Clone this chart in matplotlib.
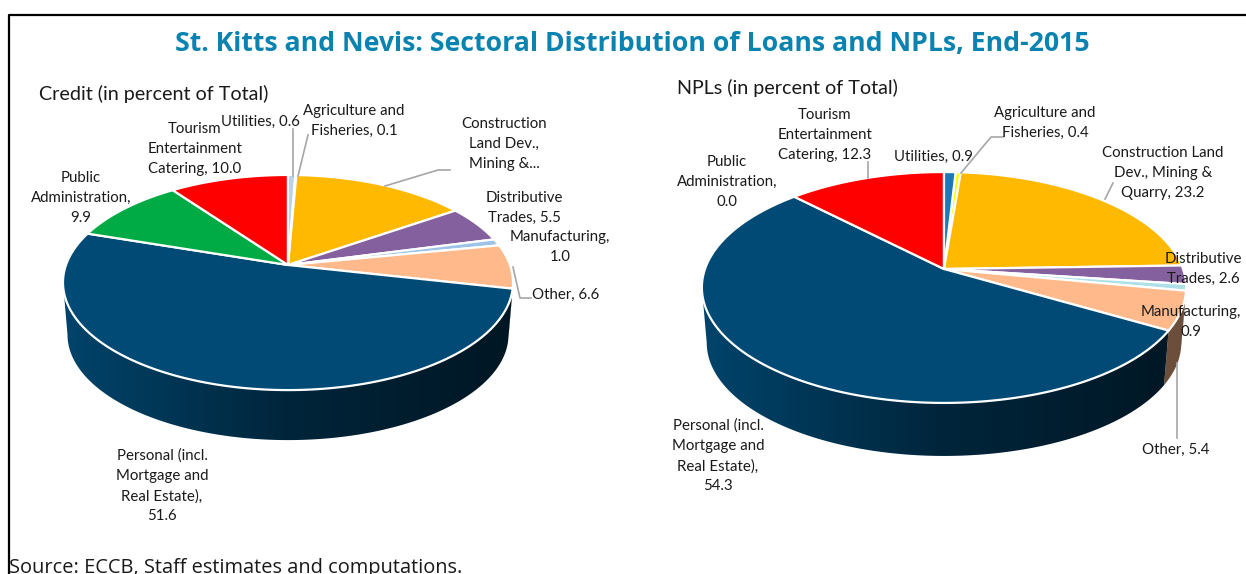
import numpy as np
import matplotlib
matplotlib.use("Agg")
import matplotlib.pyplot as plt
from matplotlib.colors import LinearSegmentedColormap, to_rgb

sectors = ["Agriculture", "Construction", "Distributive", "Manufacturing", "Other",
           "Personal", "Public", "Tourism", "Utilities"]
credit_values = [0.1, 14.7, 5.5, 1.0, 6.6, 51.6, 9.9, 10.0, 0.6]
npl_values = [0.4, 23.2, 2.6, 0.9, 5.4, 54.3, 0.0, 12.3, 0.9]

credit_colors = ["#dfe8f2", "#ffb900", "#85609f", "#9dc3e6", "#ffb98a", "#004a75", "#00ab45", "#ff0000", "#b9d2e9"]
npl_colors = ["#ffff00", "#ffb900", "#85609f", "#aee0e8", "#ffb98a", "#004a75", "#00ab45", "#ff0000", "#1f78b8"]

credit_labels = [
    ("Agriculture and\nFisheries, 0.1", 354, 121),
    ("Utilities, 0.6", 260, 122),
    ("Tourism\nEntertainment\nCatering, 10.0", 195, 149),
    ("Public\nAdministration,\n9.9", 81, 198),
    ("Construction\nLand Dev.,\nMining &...", 504, 144),
    ("Distributive\nTrades, 5.5", 524, 208),
    ("Manufacturing,\n1.0", 560, 247),
    ("Other, 6.6", 566, 295),
    ("Personal (incl.\nMortgage and\nReal Estate),\n51.6", 162, 486),
]
npl_labels = [
    ("Tourism\nEntertainment\nCatering, 12.3", 825, 135),
    ("Agriculture and\nFisheries, 0.4", 1045, 123),
    ("Utilities, 0.9", 933, 157),
    ("Public\nAdministration,\n0.0", 727, 182),
    ("Construction Land\nDev., Mining &\nQuarry, 23.2", 1163, 173),
    ("Distributive\nTrades, 2.6", 1203, 269),
    ("Manufacturing,\n0.9", 1191, 322),
    ("Other, 5.4", 1176, 450),
    ("Personal (incl.\nMortgage and\nReal Estate),\n54.3", 718, 456),
]
leaders = [
    ([293, 293], [129, 176]),
    ([308, 298], [135, 176]),
    ([385, 438, 450], [186, 170, 170]),
    ([513, 520, 531], [267, 298, 298]),
    ([868, 868], [162, 178]),
    ([1003, 991, 961], [137, 137, 173]),
    ([1113, 1105], [183, 199]),
    ([1177, 1177], [363, 438]),
]

fig = plt.figure(figsize=(12.46, 5.74), dpi=100)
ax = fig.add_axes([0, 0, 1, 1])
ax.set_xlim(0, 1246)
ax.set_ylim(574, 0)
ax.axis("off")


def project(theta, cx, cy, rx, ry, k, scale=1.0, drop=0.0):
    # excel style 3d pie, the far side of the disc is foreshortened
    u = np.sin(theta)
    v = np.cos(theta)
    d = 1 + k * v
    return cx + scale * rx * u / d, cy + drop - scale * ry * v / d


def draw_pie(values, colors, first_pct, cx, cy, rx, ry, k, scale, drop):
    # first_pct: the pie is turned so the last slice ends at 12 o'clock
    edges = np.radians((np.concatenate([[0], np.cumsum(values)]) + first_pct) * 3.6)
    # the side wall shows between the two widest points of the rim
    vis_start = np.pi / 2 + np.arcsin(k)
    vis_end = 3 * np.pi / 2 - np.arcsin(k)
    for i, col in enumerate(colors):
        a = max(edges[i], vis_start)
        b = min(edges[i + 1], vis_end)
        if b <= a:
            continue
        t = np.linspace(a, b, 200)
        x1, y1 = project(t, cx, cy, rx, ry, k)
        x2, y2 = project(t, cx, cy, rx, ry, k, scale, drop)
        wall_x = np.concatenate([x1, x2[::-1]])
        wall_y = np.concatenate([y1, y2[::-1]])
        base = np.array(to_rgb(col))
        dark = 0.3 if sectors[i] == "Personal" else 0.42
        cmap = LinearSegmentedColormap.from_list("wall", [base * 0.92, base * 0.5, base * dark])
        poly = ax.fill(wall_x, wall_y, color="none", zorder=1)[0]
        img = ax.imshow(np.linspace(0, 1, 256).reshape(1, -1), cmap=cmap, aspect="auto",
                        extent=(cx - rx * 1.02, cx + rx * 1.02, cy + 200, cy - 120), zorder=1)
        img.set_clip_path(poly)
    for i, col in enumerate(colors):
        if values[i] == 0:
            continue
        t = np.linspace(edges[i], edges[i + 1], 200)
        x, y = project(t, cx, cy, rx, ry, k)
        ax.fill(np.r_[cx, x], np.r_[cy, y], facecolor=col, edgecolor="white", linewidth=1.6,
                joinstyle="round", zorder=2)


draw_pie(credit_values, credit_colors, credit_values[-1], 288, 265, 222, 104.7, 0.163, 0.98, 52.5)
draw_pie(npl_values, npl_colors, npl_values[-1], 944, 269, 239, 112.5, 0.160, 0.98, 55.7)
ax.set_xlim(0, 1246)
ax.set_ylim(574, 0)

for lx, ly in leaders:
    ax.plot(lx, ly, color="#a6a6a6", linewidth=1.2, zorder=3)

for text, x, y in credit_labels + npl_labels:
    ax.text(x, y, text, ha="center", va="center", fontsize=10.8, family="Lato",
            color="#1a1a1a", linespacing=1.54, zorder=4)

ax.text(632, 43.5, "St. Kitts and Nevis: Sectoral Distribution of Loans and NPLs, End-2015",
        ha="center", va="center", fontsize=19.2, fontweight="bold", family="Open Sans", color="#0a83b0")
ax.text(39, 94, "Credit (in percent of Total)", ha="left", va="center", fontsize=14.2, family="Lato", color="#1a1a1a")
ax.text(677, 88, "NPLs (in percent of Total)", ha="left", va="center", fontsize=14.2, family="Lato", color="#1a1a1a")
ax.text(9, 568, "Source: ECCB, Staff estimates and computations.", ha="left", va="center",
        fontsize=14.4, family="Open Sans", color="#1a1a1a")

# frame around the box, no right or bottom side in the crop
ax.plot([9, 9, 1246], [574, 15, 15], color="black", linewidth=1.6, zorder=5, clip_on=False)

fig.savefig("out.png", dpi=100, facecolor="white")
